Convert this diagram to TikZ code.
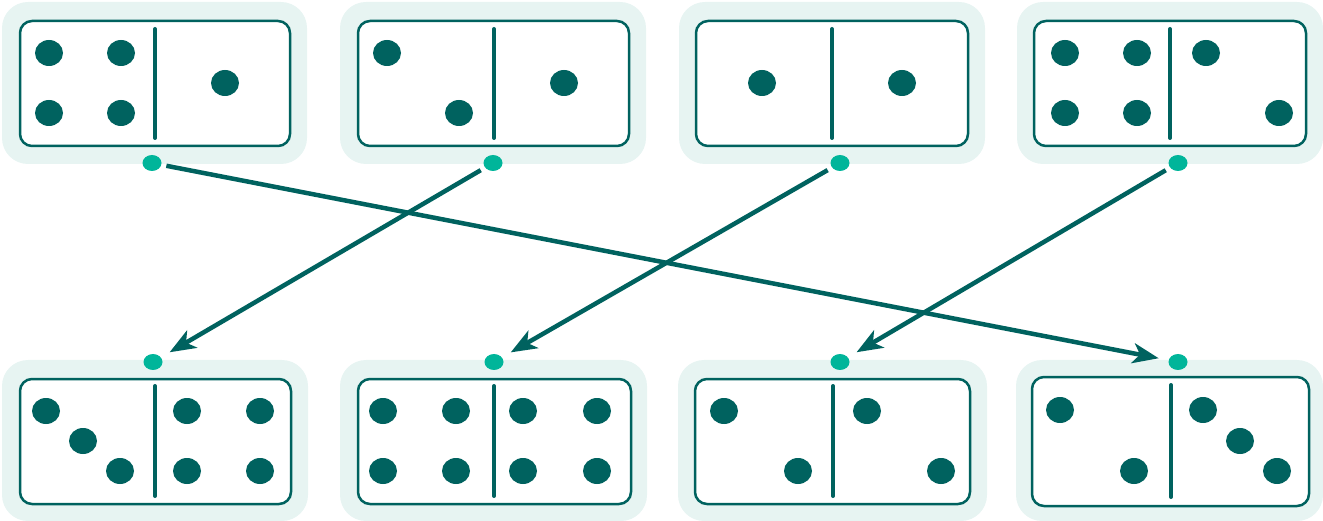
\documentclass[tikz,border=0pt]{standalone}
\usetikzlibrary{shapes.geometric,arrows.meta}
\definecolor{teal1}{HTML}{00625F}
\definecolor{green1}{HTML}{00B59A}
\definecolor{bgl}{HTML}{E7F4F2}
\tikzset{
  bgbox/.style={fill=bgl, rounded corners=26pt},
  tilebox/.style={draw=teal1, line width=2.5pt, fill=white, rounded corners=12pt},
  divider/.style={draw=teal1, line width=4pt, line cap=round},
  conn/.style={ellipse, fill=green1, inner sep=0pt, minimum width=19pt, minimum height=16pt},
  link/.style={draw=teal1, line width=4.5pt, -{Stealth[length=26pt,width=20pt,inset=7pt]}, shorten <=5pt, shorten >=10pt}
}
\newcommand{\pip}[2]{\fill[teal1] (#1,#2) ellipse [x radius=14pt, y radius=13pt];}
\begin{document}
\begin{tikzpicture}[x=1pt,y=-1pt]
\useasboundingbox (0,0) rectangle (1323,521);
% top row backgrounds
\fill[bgbox] (2,2) rectangle (307,164);
\fill[bgbox] (340,2) rectangle (646,164);
\fill[bgbox] (679,2) rectangle (985,164);
\fill[bgbox] (1017,2) rectangle (1323,164);
% bottom row backgrounds
\fill[bgbox] (2,360) rectangle (308,521);
\fill[bgbox] (340,360) rectangle (647,521);
\fill[bgbox] (678,360) rectangle (987,521);
\fill[bgbox] (1016,360) rectangle (1323,521);
% top tiles
\draw[tilebox] (20,21) rectangle (290,146);
\draw[tilebox] (358,21) rectangle (629,146);
\draw[tilebox] (696,21) rectangle (968,146);
\draw[tilebox] (1034,21) rectangle (1306,146);
\draw[divider] (155,29) -- (155,138);
\draw[divider] (494,29) -- (494,138);
\draw[divider] (832,29) -- (832,138);
\draw[divider] (1170,29) -- (1170,138);
% bottom tiles
\draw[tilebox] (20,379) rectangle (291,504);
\draw[tilebox] (358,379) rectangle (631,504);
\draw[tilebox] (695,379) rectangle (970,504);
\draw[tilebox] (1032,377) rectangle (1309,506);
\draw[divider] (155,386) -- (155,496);
\draw[divider] (494,386) -- (494,496);
\draw[divider] (833,386) -- (833,496);
\draw[divider] (1171,385) -- (1171,497);
% pips top
\pip{49}{53}\pip{121}{53}\pip{49}{113}\pip{121}{113}\pip{225}{83}
\pip{387}{53}\pip{459}{113}\pip{564}{83}
\pip{762}{83}\pip{902}{83}
\pip{1065}{53}\pip{1137}{53}\pip{1065}{113}\pip{1137}{113}\pip{1206}{53}\pip{1279}{113}
% pips bottom
\pip{46}{411}\pip{83}{441}\pip{120}{471}
\pip{187}{411}\pip{260}{411}\pip{187}{471}\pip{260}{471}
\pip{383}{411}\pip{456}{411}\pip{383}{471}\pip{456}{471}
\pip{523}{411}\pip{597}{411}\pip{523}{471}\pip{597}{471}
\pip{724}{411}\pip{798}{471}\pip{867}{411}\pip{941}{471}
\pip{1060}{410}\pip{1134}{471}
\pip{1203}{410}\pip{1240}{441}\pip{1277}{471}
% connector dots
\node[conn] (t1) at (152,163) {};
\node[conn] (t2) at (493,163) {};
\node[conn] (t3) at (840,163) {};
\node[conn] (t4) at (1178,163) {};
\node[conn] (b1) at (153,362) {};
\node[conn] (b2) at (494,362) {};
\node[conn] (b3) at (840,362) {};
\node[conn] (b4) at (1178,362) {};
% links
\draw[link] (t1) -- (b4);
\draw[link] (t2) -- (b1);
\draw[link] (t3) -- (b2);
\draw[link] (t4) -- (b3);
\end{tikzpicture}
\end{document}
